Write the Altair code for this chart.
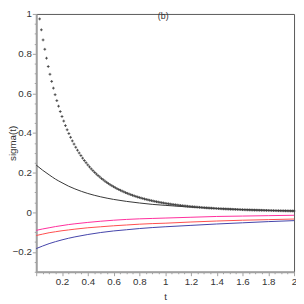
import altair as alt
import pandas as pd

# ---- data ----
t_line = [0, 0.05, 0.1, 0.15, 0.2, 0.25, 0.3, 0.4, 0.5, 0.6, 0.7, 0.8, 0.9, 1.0,
          1.2, 1.4, 1.6, 1.8, 2.0]
black = [0.238, 0.212, 0.189, 0.167, 0.149, 0.132, 0.118, 0.095, 0.078, 0.065,
         0.055, 0.047, 0.040, 0.035, 0.026, 0.019, 0.014, 0.010, 0.007]
pink = [-0.091, -0.084, -0.078, -0.072, -0.067, -0.062, -0.058, -0.051, -0.045,
        -0.040, -0.036, -0.033, -0.031, -0.029, -0.025, -0.021, -0.019, -0.017, -0.015]
red = [-0.117, -0.110, -0.103, -0.098, -0.093, -0.089, -0.085, -0.078, -0.073,
       -0.068, -0.064, -0.060, -0.057, -0.055, -0.049, -0.044, -0.040, -0.037, -0.034]
blue = [-0.183, -0.170, -0.158, -0.148, -0.139, -0.131, -0.124, -0.112, -0.102,
        -0.094, -0.088, -0.082, -0.077, -0.073, -0.066, -0.059, -0.053, -0.047, -0.042]

dot_vals = [
    0.975, 0.920, 0.869, 0.822, 0.777, 0.735, 0.696, 0.660, 0.626, 0.593,
    0.563, 0.535, 0.508, 0.483, 0.460, 0.437, 0.416, 0.397, 0.378, 0.360,
    0.344, 0.328, 0.313, 0.299, 0.286, 0.273, 0.261, 0.250, 0.239, 0.229,
    0.219, 0.210, 0.201, 0.193, 0.185, 0.178, 0.170, 0.164, 0.157, 0.151,
    0.145, 0.139, 0.134, 0.129, 0.124, 0.119, 0.115, 0.111, 0.107, 0.103,
    0.0991, 0.0956, 0.0922, 0.0889, 0.0858, 0.0828, 0.0799, 0.0771, 0.0745, 0.0720,
    0.0696, 0.0672, 0.0650, 0.0629, 0.0608, 0.0588, 0.0569, 0.0551, 0.0533, 0.0516,
    0.0500, 0.0484, 0.0469, 0.0454, 0.0440, 0.0427, 0.0414, 0.0401, 0.0389, 0.0378,
    0.0367, 0.0356, 0.0345, 0.0335, 0.0325, 0.0316, 0.0307, 0.0298, 0.0290, 0.0282,
    0.0274, 0.0266, 0.0259, 0.0252, 0.0245, 0.0238, 0.0231, 0.0225, 0.0219, 0.0213,
    0.0208, 0.0202, 0.0197, 0.0192, 0.0187, 0.0182, 0.0177, 0.0173, 0.0168, 0.0164,
    0.0160, 0.0156, 0.0152, 0.0148, 0.0145, 0.0141, 0.0138, 0.0134, 0.0131, 0.0128,
    0.0125, 0.0122, 0.0119, 0.0116, 0.0113, 0.0111, 0.0108, 0.0106, 0.0103, 0.0101,
    0.0099, 0.0096, 0.0094, 0.0092, 0.0090, 0.0088, 0.0086, 0.0084, 0.0082, 0.0080,
    0.0079, 0.0077, 0.0075, 0.0074, 0.0072, 0.0070, 0.0069, 0.0067, 0.0066,
]
t_dots = [k / 75 for k in range(2, 2 + len(dot_vals))]

series_names = ["black", "pink", "red", "blue"]
series_colors = ["#333333", "#ff2a9a", "#ff4a4a", "#4040a8"]

y_ticks = [i / 20 for i in range(-6, 21)]
x_ticks = [i / 20 for i in range(0, 41)]
title_text = ["(b)"]

# ---- tables ----
lines_df = pd.DataFrame({
    "t": t_line * 4,
    "v": black + pink + red + blue,
    "s": [n for n in series_names for _ in t_line],
})
dots_df = pd.DataFrame({"t": t_dots, "v": dot_vals})
title_df = pd.DataFrame({"label": title_text})

major = "abs(datum.value*5 - round(datum.value*5)) < 0.001"
tick_size = {"condition": {"test": major, "value": 4}, "value": 2}

x_scale = alt.Scale(domain=[0, 2], nice=False, zero=False)
y_scale = alt.Scale(domain=[-0.3, 1], nice=False, zero=False)

x_axis = alt.Axis(
    values=x_ticks, format="~g", title="t",
    labelExpr=f"({major}) && datum.value > 0 ? datum.label : ''",
    tickSize=tick_size, labelOverlap=False, labelFlush=False, labelBound=False,
    titleX=132.5, titleY=28, titleBaseline="alphabetic",
)
y_axis = alt.Axis(
    values=y_ticks, format="~g", title="sigma(t)",
    labelExpr=f"({major}) ? datum.label : ''",
    tickSize=tick_size, labelOverlap=False, labelFlush=False, labelBound=False,
    titleX=-29, titleY=132.5, titleAngle=270, titleBaseline="top",
    titleAlign="center",
)

lines = alt.Chart(lines_df).mark_line(strokeWidth=1, interpolate="monotone").encode(
    x=alt.X("t:Q", scale=x_scale, axis=x_axis),
    y=alt.Y("v:Q", scale=y_scale, axis=y_axis),
    color=alt.Color("s:N", scale=alt.Scale(domain=series_names, range=series_colors),
                    legend=None),
    detail="s:N",
)

dots = alt.Chart(dots_df).mark_point(
    shape="M -1 0 L 1 0 M 0 -1 L 0 1", size=8, filled=False,
    stroke="#404040", strokeWidth=0.9, opacity=1,
).encode(
    x=alt.X("t:Q", scale=x_scale, axis=x_axis),
    y=alt.Y("v:Q", scale=y_scale, axis=y_axis),
)

title = alt.Chart(title_df).mark_text(
    baseline="top", align="center", fontSize=9, font="Liberation Sans", color="#333333",
).encode(
    text="label:N", x=alt.value(130.5), y=alt.value(-2),
)

chart = alt.layer(lines, dots, title).properties(
    width=265, height=265,
    autosize=alt.AutoSizeParams(type="none"),
    padding={"left": 29, "top": 2, "right": 2, "bottom": 30},
).configure_view(
    stroke="#555555", strokeWidth=1,
).configure_axis(
    grid=False,
    domainColor="#a0a0a0", domainWidth=2,
    tickColor="#a0a0a0", tickWidth=1,
    labelFont="Liberation Sans", labelFontSize=10, labelColor="#333333",
    labelPadding=1,
    titleFont="Liberation Sans", titleFontSize=10, titleFontWeight="normal",
    titleColor="#333333",
)

chart.save("out.html", embed_options={"renderer": "svg", "actions": False})
